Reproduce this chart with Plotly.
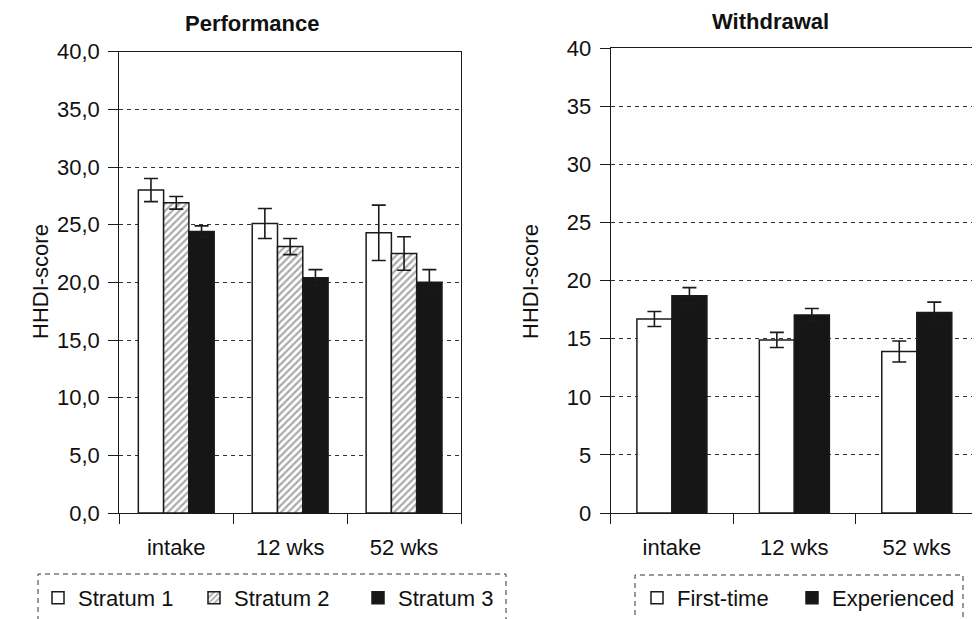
import plotly.graph_objects as go

# The page body has an 8px margin, so the figure is 8px smaller and everything
# is laid out in reference-pixel coordinates shifted by 8px.
OFF = 8
W, H = 980 - OFF, 619 - OFF
MB = 106  # bottom margin: x axis sits at reference y=513

categories = ["intake", "12 wks", "52 wks"]

# Performance
stratum1 = [28.0, 25.1, 24.3]
stratum1_err = [1.0, 1.3, 2.4]
stratum2 = [26.9, 23.1, 22.5]
stratum2_err = [0.55, 0.7, 1.45]
stratum3 = [24.4, 20.4, 20.0]
stratum3_err = [0.5, 0.7, 1.1]

# Withdrawal
first_time = [16.7, 14.9, 13.9]
first_time_err = [0.65, 0.65, 0.9]
experienced = [18.7, 17.05, 17.25]
experienced_err = [0.7, 0.55, 0.9]

left_tickvals = [0, 5, 10, 15, 20, 25, 30, 35, 40]
left_ticktext = ["0,0", "5,0", "10,0", "15,0", "20,0", "25,0", "30,0", "35,0", "40,0"]
right_tickvals = [0, 5, 10, 15, 20, 25, 30, 35, 40]
right_ticktext = ["0", "5", "10", "15", "20", "25", "30", "35", "40"]

FONT = "Liberation Sans, Arial, sans-serif"
FS = 22
BLACK = "#161616"
LINE = "#1a1a1a"

PH = H - MB  # plot-area height


def fx(x):
    return (x - OFF) / W


def fy(y):
    return (PH - (y - OFF)) / PH


fig = go.Figure()


def err(vals):
    return dict(type="data", array=vals, visible=True, color=LINE, thickness=1.6, width=7)


lw = 0.222
fig.add_trace(go.Bar(x=categories, y=stratum1, name="Stratum 1", xaxis="x", yaxis="y",
                     offset=-1.5 * lw, width=lw,
                     marker=dict(color="white", line=dict(color=LINE, width=1.5)),
                     error_y=err(stratum1_err), legend="legend"))
fig.add_trace(go.Bar(x=categories, y=stratum2, name="Stratum 2", xaxis="x", yaxis="y",
                     offset=-0.5 * lw, width=lw,
                     marker=dict(color="white", line=dict(color=LINE, width=1.5),
                                 pattern=dict(shape="/", fgcolor="#555555", bgcolor="white",
                                              size=5, solidity=0.45)),
                     error_y=err(stratum2_err), legend="legend3"))
fig.add_trace(go.Bar(x=categories, y=stratum3, name="Stratum 3", xaxis="x", yaxis="y",
                     offset=0.5 * lw, width=lw,
                     marker=dict(color=BLACK, line=dict(color=LINE, width=1.5)),
                     error_y=err(stratum3_err), legend="legend4"))

rw = 0.286
fig.add_trace(go.Bar(x=categories, y=first_time, name="First-time", xaxis="x2", yaxis="y2",
                     offset=-rw, width=rw,
                     marker=dict(color="white", line=dict(color=LINE, width=1.5)),
                     error_y=err(first_time_err), legend="legend2"))
fig.add_trace(go.Bar(x=categories, y=experienced, name="Experienced", xaxis="x2", yaxis="y2",
                     offset=0, width=rw,
                     marker=dict(color=BLACK, line=dict(color=LINE, width=1.5)),
                     error_y=err(experienced_err), legend="legend5"))

xcommon = dict(type="category", range=[-0.5, 2.5], showline=True, linecolor=LINE, linewidth=1.3,
               mirror=True, ticks="outside", tickson="boundaries", ticklen=10, tickwidth=1.3,
               tickcolor=LINE, showgrid=False, tickfont=dict(family=FONT, size=FS, color="#111"),
               ticklabelstandoff=14, fixedrange=True)
ycommon = dict(range=[0, 40], showline=True, linecolor=LINE, linewidth=1.3, mirror=True,
               ticks="outside", ticklen=10, tickwidth=1.3, tickcolor=LINE,
               showgrid=True, gridcolor="#333", griddash="4px,4px", gridwidth=1,
               zeroline=False, tickfont=dict(family=FONT, size=FS, color="#111"),
               ticklabelstandoff=4, fixedrange=True)

legend_common = dict(orientation="h", xanchor="left", yanchor="bottom", y=-MB / PH,
                     bgcolor="rgba(0,0,0,0)", font=dict(family=FONT, size=FS, color="#111"),
                     itemclick=False, itemdoubleclick=False)

# legend text starts (reference px); plotly puts text 40px right of legend's left edge
fig.update_layout(
    width=W, height=H,
    margin=dict(l=0, r=0, t=0, b=MB, autoexpand=False),
    paper_bgcolor="white", plot_bgcolor="white",
    barmode="overlay",
    font=dict(family=FONT, size=FS, color="#111"),
    xaxis=dict(xcommon, domain=[fx(119.3), fx(461)], anchor="y"),
    yaxis=dict(ycommon, domain=[0, fy(51.7)], anchor="x",
               tickvals=left_tickvals, ticktext=left_ticktext),
    xaxis2=dict(xcommon, domain=[fx(610.7), fx(978)], anchor="y2"),
    yaxis2=dict(ycommon, domain=[0, fy(48.3)], anchor="x2",
                tickvals=right_tickvals, ticktext=right_ticktext),
    legend=dict(legend_common, x=fx(78 - 40)),
    legend3=dict(legend_common, x=fx(234 - 40)),
    legend4=dict(legend_common, x=fx(398 - 40)),
    legend2=dict(legend_common, x=fx(677 - 40)),
    legend5=dict(legend_common, x=fx(832 - 40)),
    showlegend=True,
    annotations=[
        dict(text="<b>Performance</b>", x=fx(252), y=fy(23), xref="paper", yref="paper",
             xanchor="center", yanchor="middle", showarrow=False,
             font=dict(family=FONT, size=FS, color="#111")),
        dict(text="<b>Withdrawal</b>", x=fx(770), y=fy(21), xref="paper", yref="paper",
             xanchor="center", yanchor="middle", showarrow=False,
             font=dict(family=FONT, size=FS, color="#111")),
        dict(text="HHDI-score", x=fx(40), y=fy(282), xref="paper", yref="paper",
             xanchor="center", yanchor="middle", showarrow=False, textangle=-90,
             font=dict(family=FONT, size=FS, color="#111")),
        dict(text="HHDI-score", x=fx(530), y=fy(282), xref="paper", yref="paper",
             xanchor="center", yanchor="middle", showarrow=False, textangle=-90,
             font=dict(family=FONT, size=FS, color="#111")),
    ],
    shapes=[
        dict(type="rect", xref="paper", yref="paper", x0=fx(38), x1=fx(506), y0=fy(640), y1=fy(574),
             line=dict(color="#333", width=1, dash="5px,4px"), fillcolor="rgba(0,0,0,0)", layer="below"),
        dict(type="rect", xref="paper", yref="paper", x0=fx(635), x1=fx(963), y0=fy(640), y1=fy(575),
             line=dict(color="#333", width=1, dash="5px,4px"), fillcolor="rgba(0,0,0,0)", layer="below"),
    ],
)

fig.write_html("out.html")
